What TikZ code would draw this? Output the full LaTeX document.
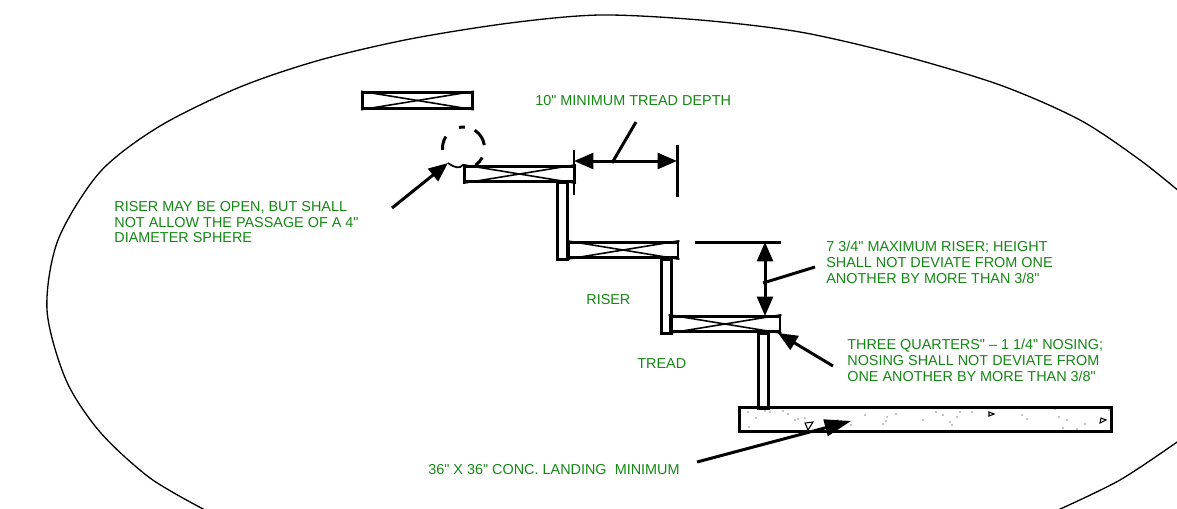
\documentclass[tikz,border=0pt]{standalone}
\usepackage{fontspec}
\setmainfont{Liberation Sans}[Ligatures=TeXOff]
\usetikzlibrary{arrows.meta}
\definecolor{notegreen}{RGB}{20,135,20}
\tikzset{
    heavy/.style={draw,black,line width=1.7pt},
    tread/.style={draw,black,line width=1.7pt,inner sep=0pt,minimum width=2.2cm,minimum height=0.31cm},
    riser/.style={draw,black,line width=1.7pt,inner sep=0pt,minimum width=0.2cm,anchor=north},
    note/.style={notegreen,font=\fontsize{8.2pt}{9.07pt}\selectfont,align=left,anchor=north west,inner sep=0pt},
    pointer/.style={black,line width=1.7pt,-{Triangle[length=11pt,width=9pt]}},
    span/.style={black,line width=1.7pt,{Triangle[length=11pt,width=9pt]}-{Triangle[length=11pt,width=9pt]}}
}
\begin{document}
\begin{tikzpicture}[x=0.02cm,y=-0.02cm]
            \useasboundingbox (0,0) rectangle (1177,508);

            % outline of the detail
            \begin{scope}
                \clip (0,0) rectangle (1177,508);
                \draw[black,line width=0.75pt,smooth] plot coordinates {(205,510) (150,478) (100,432) (66,380) (47,310)
                    (58,240) (100,172) (160,126) (240,87) (320,60) (410,39) (510,23)
                    (600,15) (700,20) (800,32) (900,55) (1000,85) (1080,120)
                    (1140,160) (1180,192)};
                \draw[black,line width=0.75pt,smooth] plot coordinates {(1058,510) (1120,480) (1180,440)};
            \end{scope}

            % risers
            \node[riser,minimum height=1.54cm] (r1) at (562.5,181) {};
            \node[riser,minimum height=1.48cm] (r2) at (666.5,258) {};
            \node[riser,minimum height=1.5cm] (r3) at (763.5,332) {};

            % treads
            \begin{scope}[every node/.style={tread}]

                \node (t0) at (417.5,100.5) {};
                \node (t1) at (519.5,174) {};
                \node (t2) at (623,250) {};
                \node (t3) at (725,324) {};

            \end{scope}
            \foreach \t in {t0,t1,t2,t3} {
                \draw[black,line width=0.9pt] (\t.north west) -- (\t.south east);
                \draw[black,line width=0.9pt] (\t.south west) -- (\t.north east);
            }

            % landing
            \node[draw,black,line width=1.7pt,inner sep=0pt,minimum width=7.46cm,minimum height=0.48cm] (slab) at (925.5,419) {};
            \foreach \x/\y in {748/412,756/418,765/411,770/412,783/411,788/414,795/420,798/419,805/418,
                              749/427,826/423,838/420,851/425,865/415,876/408,886/421,883/424,887/417,
                              896/414,923/420,936/412,943/415,950/422,952/425,957/417,960/412,972/412,
                              1022/415,1027/419,1055/409,1059/417,1067/420,1063/428,1077/429,1085/424,1109/410} {
                \fill[black] (\x,\y) circle (0.4pt);
            }
            \draw[black,line width=0.6pt] (805,423) -- (813,422) -- (808,430) -- cycle;
            \draw[black,line width=0.6pt] (989,412) -- (994,414) -- (989,416) -- cycle;
            \draw[black,line width=0.6pt] (1101,418) -- (1106,420) -- (1100,423) -- cycle;

            % sphere
            \coordinate (sphere) at (463.5,148);
            \foreach \a/\b in {175/213,258/274,302/352,387/415} {
                \draw[black,line width=1.7pt] (sphere) ++(\a:21) arc (\a:\b:21);
            }
            \coordinate (tip) at (448,163);
            \coordinate (tail) at (392,208);
            \path[pointer] (tail) edge (tip);
            \draw[black,line width=1pt] (tip) .. controls (455,168) and (460,169) .. (t1.north west);

            % tread depth
            \coordinate (d1a) at (574,150);
            \coordinate (d1b) at (574,195);
            \coordinate (d2a) at (677,145);
            \coordinate (d2b) at (677,197);
            \coordinate (d1) at (574,161);
            \coordinate (d2) at (677,161);
            \coordinate (d3) at (636,122);
            \coordinate (d4) at (612,163);
            \path[heavy] (d1a) edge (d1b);
            \path[heavy] (d2a) edge (d2b);
            \path[span] (d1) edge (d2);
            \path[heavy] (d3) edge (d4);

            % riser height
            \coordinate (h1) at (695,242);
            \coordinate (h2) at (781,242);
            \coordinate (h3) at (765,242);
            \coordinate (h4) at (765,316);
            \coordinate (h5) at (815,267);
            \coordinate (h6) at (763,283);
            \path[heavy] (h1) edge (h2);
            \path[span] (h3) edge (h4);
            \path[heavy] (h5) edge (h6);

            % nosing and landing leaders
            \coordinate (n1) at (833,366);
            \coordinate (n2) at (778,333);
            \coordinate (l1) at (697,462);
            \coordinate (l2) at (851,421);
            \path[pointer] (n1) edge (n2);
            \path[pointer,-{Triangle[length=15pt,width=9.5pt]}] (l1) edge (l2);

            % notes
            \begin{scope}[every node/.style={note}]

                \node (depth) at (535,94.7) {10" MINIMUM TREAD DEPTH};
                \node (open) at (114,200.7) {RISER MAY BE OPEN, BUT SHALL\\NOT ALLOW THE PASSAGE OF A 4"\\DIAMETER SPHERE};
                \node (max) at (826,240.7) {7 3/4" MAXIMUM RISER; HEIGHT\\SHALL NOT DEVIATE FROM ONE\\ANOTHER BY MORE THAN 3/8"};
                \node (risertxt) at (586,294) {RISER};
                \node (treadtxt) at (637,358.7) {TREAD};
                \node (nosing) at (847,339) {THREE QUARTERS" – 1 1/4" NOSING;\\NOSING SHALL NOT DEVIATE FROM\\ONE ANOTHER BY MORE THAN 3/8"};
                \node (conc) at (428,464) {36" X 36" CONC. LANDING\hspace{4.6pt}MINIMUM};

            \end{scope}

        \end{tikzpicture}
\end{document}
